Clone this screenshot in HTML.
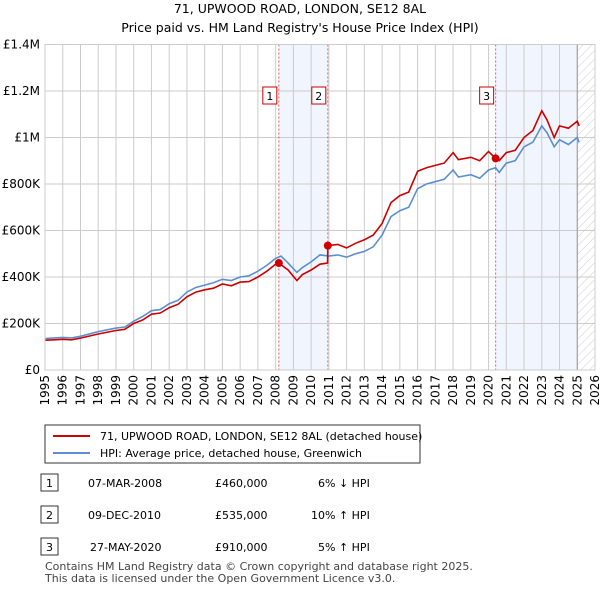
<!DOCTYPE html>
<html><head><meta charset="utf-8"><style>
body{margin:0;background:#fff;font-family:"Liberation Sans","DejaVu Sans",sans-serif;}
svg text{font-family:"DejaVu Sans","Liberation Sans",sans-serif;}
</style></head><body>
<svg id="c" width="600" height="590" xmlns="http://www.w3.org/2000/svg">
<defs><pattern id="hatch" width="6" height="6" patternUnits="userSpaceOnUse" patternTransform="rotate(45)"><line x1="0" y1="0" x2="0" y2="6" stroke="#ccc" stroke-width="1"/></pattern></defs>
<text x="300" y="13" text-anchor="middle" font-size="12.5">71, UPWOOD ROAD, LONDON, SE12 8AL</text>
<text x="300" y="32" text-anchor="middle" font-size="12.5">Price paid vs. HM Land Registry's House Price Index (HPI)</text>
<g id="plot"></g>
<g>
<rect x="45" y="425" width="375" height="38" fill="#fff" stroke="#333"/>
<line x1="53" y1="436" x2="90" y2="436" stroke="#cc0000" stroke-width="2"/>
<text x="100" y="440" font-size="11">71, UPWOOD ROAD, LONDON, SE12 8AL (detached house)</text>
<line x1="53" y1="453" x2="90" y2="453" stroke="#5b8fd1" stroke-width="2"/>
<text x="100" y="457" font-size="11">HPI: Average price, detached house, Greenwich</text>
</g>
<g font-size="11">
<rect x="41" y="474" width="17" height="17" fill="#fff" stroke="#333"/><text x="49.5" y="487" text-anchor="middle">1</text>
<text x="88" y="487">07-MAR-2008</text><text x="215" y="487">£460,000</text><text x="318" y="487">6% ↓ HPI</text>
<rect x="41" y="506" width="17" height="17" fill="#fff" stroke="#333"/><text x="49.5" y="519" text-anchor="middle">2</text>
<text x="88" y="519">09-DEC-2010</text><text x="215" y="519">£535,000</text><text x="311" y="519">10% ↑ HPI</text>
<rect x="41" y="538" width="17" height="17" fill="#fff" stroke="#333"/><text x="49.5" y="551" text-anchor="middle">3</text>
<text x="90" y="551">27-MAY-2020</text><text x="215" y="551">£910,000</text><text x="318" y="551">5% ↑ HPI</text>
</g>
<text x="45" y="570" font-size="11" fill="#444">Contains HM Land Registry data © Crown copyright and database right 2025.</text>
<text x="45" y="582" font-size="11" fill="#444">This data is licensed under the Open Government Licence v3.0.</text>
</svg>
<script>
const hpiDates=[1995,1995.5,1996,1996.5,1997,1998,1999,1999.5,2000,2000.5,2001,2001.5,2002,2002.5,2003,2003.5,2004,2004.5,2005,2005.5,2006,2006.5,2007,2007.5,2008,2008.3,2008.7,2009.2,2009.5,2010,2010.5,2011,2011.5,2012,2012.5,2013,2013.5,2014,2014.5,2015,2015.5,2016,2016.5,2017,2017.5,2018,2018.3,2019,2019.5,2020,2020.4,2020.6,2021,2021.5,2022,2022.5,2023,2023.3,2023.7,2024,2024.5,2025,2025.1];
const hpiValues=[135,138,140,138,145,165,180,185,210,230,255,260,285,300,335,355,365,375,390,385,400,405,425,450,480,490,460,420,440,465,495,490,495,485,500,510,530,580,660,685,700,780,800,810,820,860,830,840,825,860,870,850,890,900,960,980,1050,1020,960,990,970,1000,980];
const priceDates=[1995,1995.5,1996,1996.5,1997,1998,1999,1999.5,2000,2000.5,2001,2001.5,2002,2002.5,2003,2003.5,2004,2004.5,2005,2005.5,2006,2006.5,2007,2007.5,2008,2008.18,2008.7,2009.2,2009.5,2010,2010.5,2010.93,2010.94,2011.5,2012,2012.5,2013,2013.5,2014,2014.5,2015,2015.5,2016,2016.5,2017,2017.5,2018,2018.3,2019,2019.5,2020,2020.4,2020.6,2021,2021.5,2022,2022.5,2023,2023.3,2023.7,2024,2024.5,2025,2025.1];
const priceValues=[128,130,132,130,137,155,170,175,200,215,240,245,268,283,315,335,345,352,370,362,378,380,400,425,455,460,430,385,410,430,455,460,535,540,525,545,560,580,630,720,750,765,855,870,880,890,935,905,915,900,940,910,900,935,945,1000,1030,1115,1075,1000,1050,1040,1070,1050];
const saleLabels=["1","2","3"];
const saleDates=[2008.18,2010.94,2020.4];
const saleValues=[460,535,910];
const yTicks=[0,200,400,600,800,1000,1200,1400];
const yTickLabels=["£0","£200K","£400K","£600K","£800K","£1M","£1.2M","£1.4M"];
const xYears=[1995,1996,1997,1998,1999,2000,2001,2002,2003,2004,2005,2006,2007,2008,2009,2010,2011,2012,2013,2014,2015,2016,2017,2018,2019,2020,2021,2022,2023,2024,2025,2026];
const X0=45,X1=595,Y0=370,Y1=44.5;
const sx=t=>X0+(t-1995)/31*(X1-X0);
const sy=v=>Y0-v/1400*(Y0-Y1);
const NS="http://www.w3.org/2000/svg";
const g=document.getElementById('plot');
function mk(tag,attrs,parent){const e=document.createElementNS(NS,tag);for(const k in attrs)e.setAttribute(k,attrs[k]);(parent||g).appendChild(e);return e;}
let r;
r=mk('rect',{x:sx(saleDates[0]),y:Y1,width:sx(saleDates[1])-sx(saleDates[0]),height:Y0-Y1,fill:'#eef3fc',opacity:0.8});


r=mk('rect',{x:sx(saleDates[2]),y:Y1,width:sx(2025)-sx(saleDates[2]),height:Y0-Y1,fill:'#eef3fc',opacity:0.8});


r=mk('rect',{x:sx(2025),y:Y1,width:X1-sx(2025),height:Y0-Y1,fill:'url(#hatch)'});


yTicks.forEach((v,i)=>{
  const l=mk('line',{x1:X0,x2:X1,y1:sy(v),y2:sy(v),stroke:'#ccc'});
  
  
  const t=mk('text',{x:X0-5,y:sy(v)+4,'text-anchor':'end','font-size':12});
  
  
  t.textContent=yTickLabels[i];
});
xYears.forEach(y=>{
  const l=mk('line',{x1:sx(y),x2:sx(y),y1:Y1,y2:Y0,stroke:'#ccc'});
  
  
  const t=mk('text',{x:0,y:0,'text-anchor':'end','font-size':12,transform:`translate(${sx(y)+4},${Y0+5}) rotate(-90)`});
  
  
  t.textContent=y;
});
r=mk('line',{x1:sx(2025),x2:sx(2025),y1:Y1,y2:Y0,stroke:'#999'});


saleDates.forEach((d,i)=>{
  const l=mk('line',{x1:sx(d),x2:sx(d),y1:Y1,y2:Y0,stroke:'#e06060','stroke-dasharray':'2,2'});
  
  
});
function path(ds,vs,col,name){
  const p=mk('path',{d:ds.map((d,i)=>(i?'L':'M')+sx(d).toFixed(1)+','+sy(vs[i]).toFixed(1)).join(''),fill:'none',stroke:col,'stroke-width':1.6});
  
  
}
path(hpiDates,hpiValues,'#5b8fd1','hpi-line');
path(priceDates,priceValues,'#cc0000','price-paid-line');
saleDates.forEach((d,i)=>{
  const c=mk('circle',{cx:sx(d),cy:sy(saleValues[i]),r:4,fill:'#cc0000'});
  
  
  const b=mk('rect',{x:sx(d)-16,y:87,width:14,height:17,fill:'#fff',stroke:'#cc0000'});
  
  
  const t=mk('text',{x:sx(d)-9,y:100,'text-anchor':'middle','font-size':11});
  
  
  t.textContent=saleLabels[i];
});
r=mk('rect',{x:X0,y:Y1,width:X1-X0,height:Y0-Y1,fill:'none',stroke:'#ccc'});


</script>
</body></html>
